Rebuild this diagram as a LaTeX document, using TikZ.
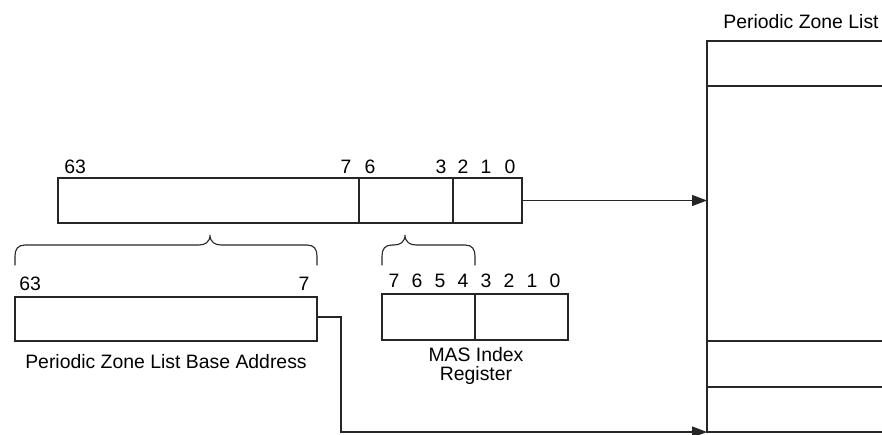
\documentclass[tikz,border=0pt]{standalone}
\usepackage{fontspec}
\setmainfont{Liberation Sans}
\usetikzlibrary{arrows.meta, positioning}

\begin{document}
\begin{tikzpicture}[
    x=0.5pt, y=-0.5pt,
    field/.style={rectangle, draw=black!85, line width=0.55pt, inner sep=0pt, outer sep=0pt, minimum height=22.5pt},
    lbl/.style={font=\fontsize{9.7}{9.5}\selectfont, inner sep=0pt},
    bit/.style={lbl, anchor=base},
    wire/.style={draw=black!85, line width=0.55pt},
    arrow/.style={wire, -{Triangle[length=7.5pt, width=5.5pt]}},
    curly/.style={wire, line cap=round},
]
    \useasboundingbox (0,0) rectangle (882,434);

    % Control register (bits 63..0)
    \node[field, minimum width=150.5pt, anchor=north west] (hi) at (58,178) {};
    \node[field, minimum width=47pt, right=0pt of hi] (idx) {};
    \node[field, minimum width=34.5pt, right=0pt of idx] (lo) {};
    \node[bit, anchor=base west] (hi-63) at (64,173) {63};
    \foreach \b/\x in {7/346, 6/370, 3/441, 2/463, 1/486, 0/510}
        \node[bit] (hi-\b) at (\x,173) {\b};

    % Braces
    \foreach \l/\t/\r in {15/210/317, 382/405/475}
        \draw[curly] (\l,265) -- (\l,256) .. controls (\l,249) and ({\l+3},245) .. ({\l+10},245)
            -- ({\t-11},245) .. controls ({\t-5},245) and (\t,242) .. (\t,235)
            .. controls (\t,242) and ({\t+5},245) .. ({\t+11},245)
            -- ({\r-10},245) .. controls ({\r-3},245) and (\r,249) .. (\r,256) -- (\r,265);

    % Base address
    \node[field, minimum width=151pt, minimum height=22pt, anchor=north west] (base) at (15,297) {};
    \node[bit, anchor=base west] (base-63) at (19,290.5) {63};
    \node[bit] (base-7) at (304,290.5) {7};
    \node[bit] (base-cap) at (166,368) {Periodic Zone List Base Address};

    % MAS index register
    \node[field, minimum width=46.5pt, minimum height=23pt, anchor=north west] (mas-hi) at (382,294) {};
    \node[field, minimum width=46.5pt, minimum height=23pt, right=0pt of mas-hi] (mas-lo) {};
    \foreach \b [count=\i from 0] in {7,...,0}
        \node[bit] (mas-\b) at ({394+23*\i},287.5) {\b};
    \node[bit, align=center] (mas-cap) at (476,380) {MAS Index\\Register};

    % Periodic zone list
    \coordinate (zl-top) at (707,41);
    \coordinate (zl-bot) at (707,432);
    \node[bit] (zl-cap) at (801,28.3) {Periodic Zone List};
    \draw[wire] (882,41) -- (zl-top) -- (zl-bot) -- (882,432);
    \foreach \y in {86,341,387}
        \draw[wire] (707,\y) -- (882,\y);

    % Connections
    \draw[arrow] (lo.east) -- (lo.east -| zl-top);
    \draw[arrow] ([yshift=1pt]base.east) -- ++(24,0) |- (zl-bot);
\end{tikzpicture}
\end{document}
